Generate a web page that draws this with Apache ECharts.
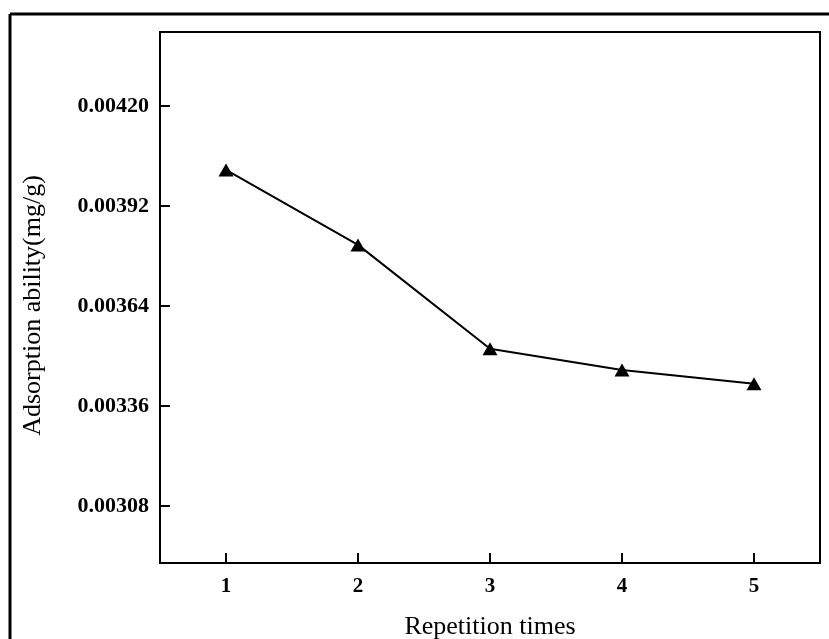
<!DOCTYPE html>
<html>
<head>
<meta charset="utf-8">
<script src="https://cdn.jsdelivr.net/npm/echarts@6/dist/echarts.min.js"></script>
<style>
html,body{margin:0;padding:0;background:#fff;}
#chart{width:829px;height:639px;}
</style>
</head>
<body>
<div id="chart"></div>
<script>
var categories = ['1', '2', '3', '4', '5'];
var adsorption = [0.004021, 0.003811, 0.003520, 0.003461, 0.003422];
var yTicks = [0.00308, 0.00336, 0.00364, 0.00392, 0.00420];
var yMin = 0.0029204;
var yMax = 0.004407;

var chart = echarts.init(document.getElementById('chart'));
var serif = '"Liberation Serif", "Times New Roman", serif';
chart.setOption({
  animation: false,
  backgroundColor: '#fff',
  grid: {
    left: 160, right: 9, top: 32, bottom: 76,
    containLabel: false,
    outerBoundsMode: 'none',
    show: true, borderColor: '#000', borderWidth: 2, backgroundColor: 'transparent'
  },
  graphic: [
    { type: 'line', shape: { x1: 10, y1: 14, x2: 829, y2: 14 }, style: { stroke: '#000', lineWidth: 3 } },
    { type: 'line', shape: { x1: 10, y1: 14, x2: 10, y2: 639 }, style: { stroke: '#000', lineWidth: 3 } }
  ],
  xAxis: {
    type: 'category',
    data: categories,
    boundaryGap: true,
    name: 'Repetition times',
    nameLocation: 'middle',
    nameGap: 51,
    nameTextStyle: { fontFamily: serif, fontSize: 26, color: '#000' },
    axisLine: { lineStyle: { color: '#000', width: 2 } },
    axisTick: { show: true, inside: true, length: 10, alignWithLabel: true, interval: 0, lineStyle: { color: '#000', width: 2 } },
    axisLabel: { fontFamily: serif, fontWeight: 'bold', fontSize: 21, color: '#000', margin: 13 },
    splitLine: { show: false },
    z: 10
  },
  yAxis: {
    type: 'value',
    min: yMin,
    max: yMax,
    name: 'Adsorption ability(mg/g)',
    nameLocation: 'middle',
    nameGap: 114,
    nameTextStyle: { fontFamily: serif, fontSize: 26, color: '#000', padding: [0, 16, 0, 0] },
    axisLine: { show: true, lineStyle: { color: '#000', width: 2 } },
    axisTick: { show: true, inside: true, length: 10, customValues: yTicks, lineStyle: { color: '#000', width: 2 } },
    axisLabel: {
      fontFamily: serif, fontWeight: 'bold', fontSize: 22, color: '#000', margin: 11,
      customValues: yTicks,
      formatter: function (v) { return v.toFixed(5); }
    },
    splitLine: { show: false }
  },
  series: [{
    type: 'line',
    data: adsorption,
    symbol: 'triangle',
    symbolSize: [15, 13],
    itemStyle: { color: '#000' },
    lineStyle: { color: '#000', width: 2 }
  }]
});
</script>
</body>
</html>
